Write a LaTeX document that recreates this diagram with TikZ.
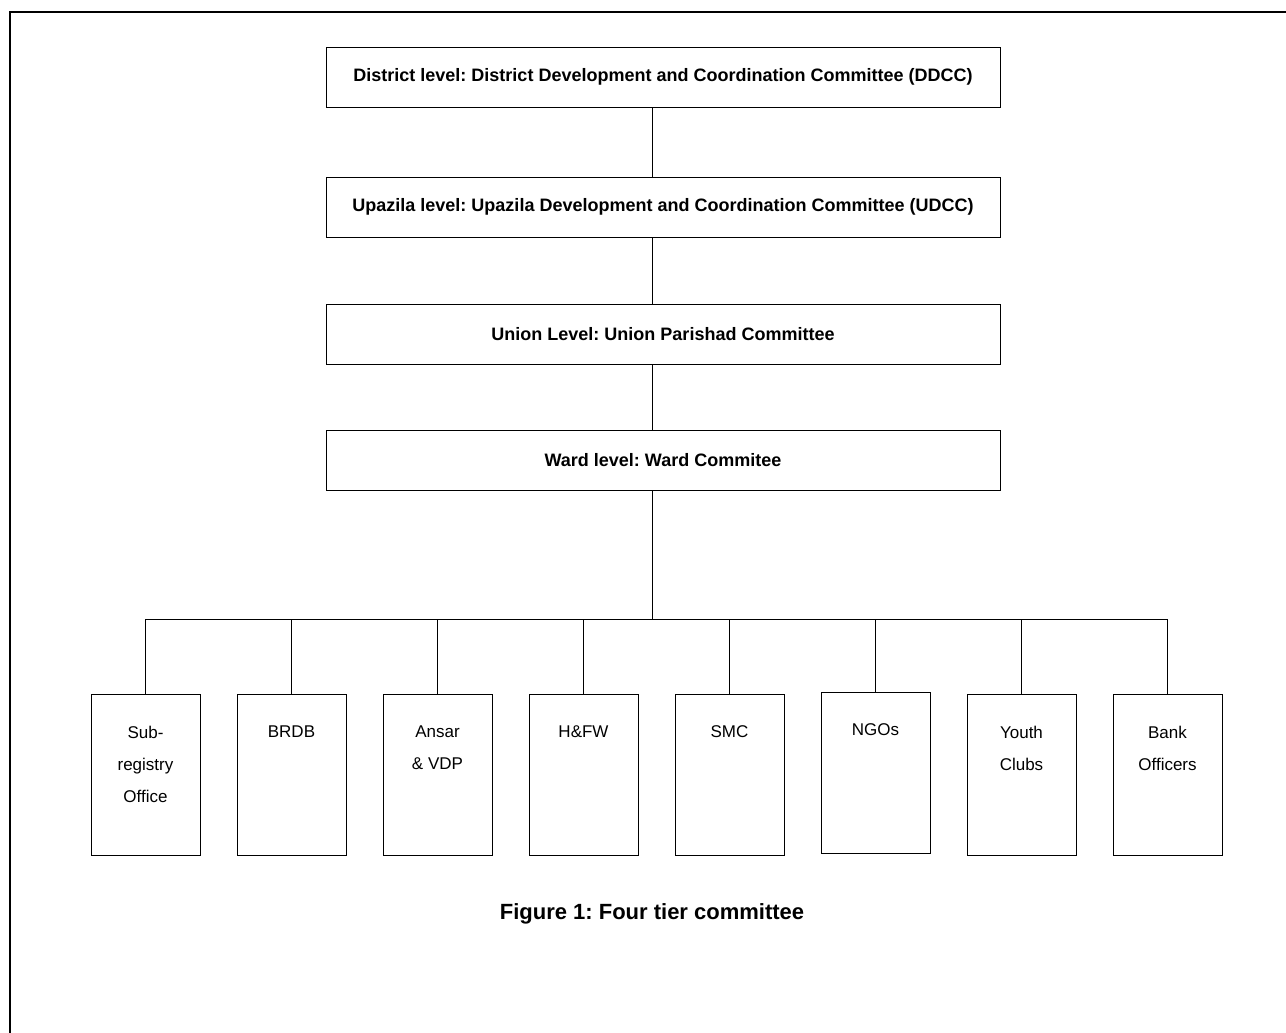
\documentclass[tikz,border=0pt]{standalone}
\usepackage{fontspec}
\setmainfont{Liberation Sans}
\frenchspacing
\usepackage{tikz}
\usetikzlibrary{positioning}
\tikzset{tier/.style={draw,line width=0.5pt,minimum width=337pt,minimum height=30pt,inner sep=0pt,font=\bfseries\fontsize{9}{11}\selectfont}}
\tikzset{unit/.style={draw,line width=0.5pt,minimum width=54.5pt,minimum height=80.5pt,inner sep=0pt}}
\tikzset{unitlabel/.style={inner sep=0pt,align=center,font=\fontsize{8.5}{16}\selectfont}}
\tikzset{link/.style={line width=0.5pt}}

\begin{document}
\begin{tikzpicture}[x=0.5pt,y=-0.5pt]
        \useasboundingbox (0,0) rectangle (1286,1033);
        \draw[line width=1.3pt] (10,1045) -- (10,12) -- (1300,12);
        \coordinate (spine) at (652,0);
        \coordinate (bus) at (0,619);
        \node[tier] (ddcc) at (663,77) {District level: District Development and Coordination Committee (DDCC)};
        \node[tier,below=34.5pt of ddcc] (udcc) {Upazila level: Upazila Development and Coordination Committee (UDCC)};
            \path[draw,link] (ddcc.south -| spine) -- (udcc.north -| spine);
        \node[tier,below=33pt of udcc] (upc) {Union Level: Union Parishad Committee};
            \path[draw,link] (udcc.south -| spine) -- (upc.north -| spine);
        \node[tier,below=32.5pt of upc] (ward) {Ward level: Ward Commitee};
            \path[draw,link] (upc.south -| spine) -- (ward.north -| spine);
            \path[draw,link] (ward.south -| spine) -- (bus -| spine);
        % members below the ward
        \node[unit] (sro) at (145.5,774.5) {};
        \node[unitlabel,below=16pt of sro.north] (sro-t) {Sub-\\registry\\Office};
        \node[unit,right=18pt of sro] (brdb) {};
        \node[unitlabel,below=16pt of brdb.north] (brdb-t) {BRDB};
        \node[unit,right=18pt of brdb] (vdp) {};
        \node[unitlabel,below=16pt of vdp.north] (vdp-t) {Ansar\\\& VDP};
        \node[unit,right=18pt of vdp] (hfw) {};
        \node[unitlabel,below=16pt of hfw.north] (hfw-t) {H\&FW};
        \node[unit,right=18pt of hfw] (smc) {};
        \node[unitlabel,below=16pt of smc.north] (smc-t) {SMC};
        \node[unit,right=18pt of smc,yshift=1pt] (ngo) {};
        \node[unitlabel,below=16pt of ngo.north] (ngo-t) {NGOs};
        \node[unit,right=18pt of ngo,yshift=-1pt] (youth) {};
        \node[unitlabel,below=16pt of youth.north] (youth-t) {Youth\\Clubs};
        \node[unit,right=18pt of youth] (bank) {};
        \node[unitlabel,below=16pt of bank.north] (bank-t) {Bank\\Officers};
            \path[draw,link] (sro.north |- bus) -- (bank.north |- bus);
            \path[draw,link] (sro.north |- bus) -- (sro.north);
            \path[draw,link] (brdb.north |- bus) -- (brdb.north);
            \path[draw,link] (vdp.north |- bus) -- (vdp.north);
            \path[draw,link] (hfw.north |- bus) -- (hfw.north);
            \path[draw,link] (smc.north |- bus) -- (smc.north);
            \path[draw,link] (ngo.north |- bus) -- (ngo.north);
            \path[draw,link] (youth.north |- bus) -- (youth.north);
            \path[draw,link] (bank.north |- bus) -- (bank.north);
        \node[font=\bfseries\fontsize{11}{13}\selectfont] (caption) at (652,914) {Figure 1: Four tier committee};
    \end{tikzpicture}
\end{document}
